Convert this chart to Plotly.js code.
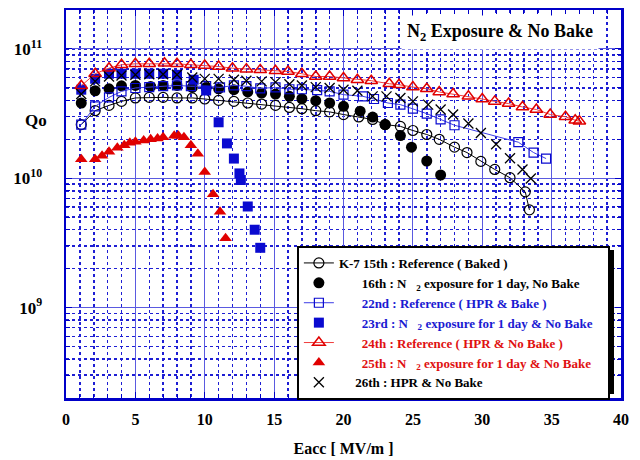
<!DOCTYPE html>
<html><head><meta charset="utf-8">
<script src="https://cdn.plot.ly/plotly-3.0.1.min.js"></script>
<style>html,body{margin:0;padding:0;background:#fff}#chart{width:640px;height:460px}</style>
</head><body><div id="chart"></div>
<script>
// K-7 15th : Reference (Baked)
const x15 = [1.1,2.1,3.1,4.0,5.0,6.0,7.0,8.0,9.1,10.0,11.0,12.1,13.1,14.1,15.1,16.1,17.0,18.0,19.0,20.0,21.1,22.1,23.0,24.1,25.0,26.0,26.9,28.0,28.9,29.9,30.9,32.0,33.1,33.4];
const q15 = [2.60e10,3.33e10,3.66e10,3.93e10,4.18e10,4.22e10,4.22e10,4.18e10,4.18e10,4.10e10,4.00e10,3.93e10,3.82e10,3.75e10,3.66e10,3.53e10,3.45e10,3.33e10,3.26e10,3.11e10,2.98e10,2.85e10,2.60e10,2.52e10,2.34e10,2.18e10,2.00e10,1.74e10,1.58e10,1.35e10,1.17e10,1.01e10,7.85e9,5.70e9];
// 16th : N2 exposure, No Bake
const x16 = [1.1,2.1,3.1,4.0,5.0,6.1,7.0,8.0,9.1,10.1,11.0,12.1,13.1,14.1,15.1,16.1,17.0,18.0,19.0,20.0,21.2,22.1,23.0,24.1,24.9,26.0,27.0];
const q16 = [3.82e10,4.75e10,4.92e10,5.19e10,5.22e10,5.13e10,5.22e10,5.22e10,5.04e10,5.04e10,4.92e10,4.84e10,4.65e10,4.56e10,4.48e10,4.30e10,4.12e10,3.98e10,3.82e10,3.60e10,3.30e10,2.97e10,2.60e10,2.14e10,1.74e10,1.36e10,1.06e10];
// 22nd : Reference (HPR & Bake)
const x22 = [1.1,2.1,3.1,4.0,5.0,6.0,7.0,8.0,9.0,10.1,11.1,12.1,13.0,14.0,15.1,16.1,17.0,18.1,19.0,20.0,21.4,22.2,23.2,24.1,25.0,26.0,27.0,28.0,32.6,33.7,34.6];
const q22 = [2.60e10,3.60e10,4.22e10,4.70e10,4.99e10,5.07e10,5.15e10,5.22e10,5.15e10,5.15e10,5.04e10,5.22e10,5.15e10,4.95e10,5.04e10,4.88e10,4.88e10,4.80e10,4.70e10,4.43e10,4.30e10,4.10e10,3.82e10,3.71e10,3.45e10,3.16e10,2.85e10,2.57e10,1.90e10,1.58e10,1.42e10];
// 23rd : N2 exposure for 1 day & No Bake
const x23 = [1.1,2.1,3.1,4.0,5.0,6.0,7.0,8.0,9.2,10.1,11.0,11.6,12.1,12.5,12.6,13.1,13.6,14.0];
const q23 = [4.84e10,5.88e10,6.43e10,6.43e10,6.43e10,6.43e10,6.43e10,6.31e10,5.78e10,4.77e10,2.71e10,1.86e10,1.42e10,1.09e10,9.7e9,6.05e9,4.0e9,2.9e9];
// 24th : Reference (HPR & No Bake)
const x24 = [1.1,2.1,3.1,4.0,5.0,6.0,7.1,8.0,9.0,10.0,11.0,12.0,13.0,14.0,15.1,16.0,17.0,18.0,19.0,20.0,21.0,22.0,23.3,24.0,25.0,26.0,26.9,27.9,29.0,30.0,30.9,31.9,32.9,33.9,34.9,36.0,36.7,37.0];
const q24 = [5.19e10,6.43e10,7.10e10,7.54e10,7.67e10,7.67e10,7.76e10,7.67e10,7.54e10,7.45e10,7.31e10,7.10e10,6.98e10,6.89e10,6.77e10,6.69e10,6.43e10,6.12e10,6.12e10,5.96e10,5.78e10,5.68e10,5.38e10,5.29e10,5.07e10,4.92e10,4.65e10,4.48e10,4.30e10,4.10e10,3.93e10,3.78e10,3.56e10,3.40e10,3.11e10,2.99e10,2.81e10,2.76e10];
// 25th : N2 exposure for 1 day & No Bake
const x25 = [1.1,2.1,2.6,3.1,3.7,4.2,4.6,5.0,5.6,6.1,6.6,7.0,7.8,8.1,8.5,9.0,9.5,10.0,10.6,11.1,11.5];
const q25 = [1.40e10,1.40e10,1.49e10,1.60e10,1.72e10,1.80e10,1.88e10,1.92e10,1.96e10,2.00e10,2.03e10,2.08e10,2.13e10,2.13e10,2.08e10,1.80e10,1.55e10,1.12e10,7.54e9,5.51e9,3.44e9];
// 26th : HPR & No Bake
const x26 = [1.1,2.1,3.1,4.0,5.0,6.0,7.0,8.0,9.1,10.0,11.0,12.1,13.0,14.1,15.1,16.1,17.0,18.0,19.0,20.0,21.0,22.1,23.1,24.1,25.0,26.1,27.0,27.9,29.0,29.9,31.0,32.0,32.9,33.5];
const q26 = [4.48e10,5.61e10,6.12e10,6.24e10,6.31e10,6.38e10,6.38e10,6.31e10,6.01e10,5.87e10,5.87e10,5.78e10,5.68e10,5.61e10,5.54e10,5.34e10,5.22e10,5.07e10,4.99e10,4.84e10,4.75e10,4.30e10,4.30e10,4.18e10,3.93e10,3.71e10,3.40e10,3.11e10,2.65e10,2.24e10,1.83e10,1.43e10,1.17e10,9.96e9];

// y-axis tick labels
const yTickVals = [1e9, 1e10, 1e11];
const yTickText = ['10<sup>9</sup>', '10<sup>10</sup>', '10<sup>11</sup>'];

const names = [
  'K-7 15th : Reference ( Baked )',
  '&nbsp;&nbsp;&nbsp;&nbsp;&nbsp;&nbsp;&nbsp;16th : N&nbsp;&nbsp;&nbsp;<sub>2</sub> exposure for 1 day, No Bake',
  '<span style="color:#1a1ad2">&nbsp;&nbsp;&nbsp;&nbsp;&nbsp;&nbsp;&nbsp;22nd : Reference ( HPR &amp; Bake )</span>',
  '<span style="color:#1a1ad2">&nbsp;&nbsp;&nbsp;&nbsp;&nbsp;&nbsp;&nbsp;23rd : N&nbsp;&nbsp;&nbsp;<sub>2</sub> exposure for 1 day &amp; No Bake&nbsp;&nbsp;&nbsp;</span>',
  '<span style="color:#e01010">&nbsp;&nbsp;&nbsp;&nbsp;&nbsp;&nbsp;&nbsp;24th : Reference ( HPR &amp; No Bake )</span>',
  '<span style="color:#e01010">&nbsp;&nbsp;&nbsp;&nbsp;&nbsp;&nbsp;&nbsp;25th : N&nbsp;&nbsp;&nbsp;<sub>2</sub> exposure for 1 day &amp; No Bake</span>',
  '&nbsp;&nbsp;&nbsp;&nbsp;&nbsp;26th : HPR &amp; No Bake'
];

const BLUE = '#0a0ad0', RED = '#e00000';
const traces = [
  {x:x15, y:q15, name:names[0], mode:'lines+markers', line:{color:'black', width:1},
   marker:{symbol:'circle-open', size:10, color:'black', line:{width:1.2}}},
  {x:x16, y:q16, name:names[1], mode:'markers',
   marker:{symbol:'circle', size:11, color:'black'}},
  {x:x22, y:q22, name:names[2], mode:'lines+markers', line:{color:'#3c3ce6', width:1},
   marker:{symbol:'square-open', size:9, color:BLUE, line:{width:1.2}}},
  {x:x23, y:q23, name:names[3], mode:'markers',
   marker:{symbol:'square', size:10, color:BLUE}},
  {x:x24, y:q24, name:names[4], mode:'lines+markers', line:{color:'#f03c3c', width:1},
   marker:{symbol:'triangle-up-open', size:11, color:RED, line:{width:1.5}}},
  {x:x25, y:q25, name:names[5], mode:'markers',
   marker:{symbol:'triangle-up', size:11, color:RED}},
  {x:x26, y:q26, name:names[6], mode:'markers',
   marker:{symbol:'x-thin-open', size:10, color:'black', line:{width:1.3, color:'black'}}}
];

const FONT = 'Liberation Serif, Times New Roman, serif';
const AX = '#0000c8';
const layout = {
  width:640, height:460,
  margin:{l:66, r:19, t:10, b:62},
  paper_bgcolor:'white', plot_bgcolor:'white',
  font:{family:FONT, color:'black', weight:'bold'},
  showlegend:true,
  legend:{x:0.416, y:0.3918, xanchor:'left', yanchor:'top',
    bgcolor:'white', bordercolor:'black', borderwidth:2,
    font:{family:FONT, size:13, color:'black', weight:'bold'},
    tracegroupgap:0},
  xaxis:{range:[0,40], dtick:5, tick0:0,
    showline:true, linecolor:AX, linewidth:2.5, mirror:'ticks',
    ticks:'inside', ticklen:6, tickcolor:AX, tickwidth:1,
    showgrid:true, gridcolor:'#5a5ae0', gridwidth:1, zeroline:false,
    tickfont:{family:FONT, size:16, color:'black', weight:'bold'},
    ticklabelstandoff:5,
    minor:{dtick:1, showgrid:true, gridcolor:'#1e1ed4', griddash:'dot', gridwidth:1.5,
      ticks:'inside', ticklen:4, tickcolor:AX},
    title:{text:'Eacc [ MV/m ]', font:{family:FONT, size:16, color:'black', weight:'bold'}, standoff:16}},
  yaxis:{type:'log', range:[Math.log10(2e8), Math.log10(2e11)],
    tickmode:'array', tickvals:yTickVals, ticktext:yTickText,
    showline:true, linecolor:AX, linewidth:2.5, mirror:'ticks',
    ticks:'inside', ticklen:6, tickcolor:AX, tickwidth:1,
    showgrid:true, gridcolor:'#5a5ae0', gridwidth:1, zeroline:false,
    tickfont:{family:FONT, size:17, color:'black', weight:'bold'},
    ticklabelstandoff:18,
    minor:{dtick:'D1', showgrid:true, gridcolor:'#1e1ed4', griddash:'dot', gridwidth:1.5,
      ticks:'inside', ticklen:4, tickcolor:AX}},
  shapes:[
    {type:'rect', xref:'paper', yref:'paper', x0:0.4234, x1:0.9874, y0:0.0103, y1:0.3814,
     fillcolor:'black', line:{width:0}, layer:'above'}
  ],
  annotations:[
    {xref:'paper', yref:'paper', x:-0.0775, y:0.716, xanchor:'left', yanchor:'middle', text:'Qo', showarrow:false,
     font:{family:FONT, size:17, color:'black', weight:'bold'}},
    {xref:'paper', yref:'paper', x:0.782, y:0.943, xanchor:'center', yanchor:'middle',
     text:'N<sub>2</sub> Exposure &amp; No Bake', showarrow:false,
     bgcolor:'white', borderpad:5,
     font:{family:FONT, size:18, color:'black', weight:'bold'}}
  ]
};
Plotly.newPlot('chart', traces, layout, {displayModeBar:false, staticPlot:true});
</script></body></html>
